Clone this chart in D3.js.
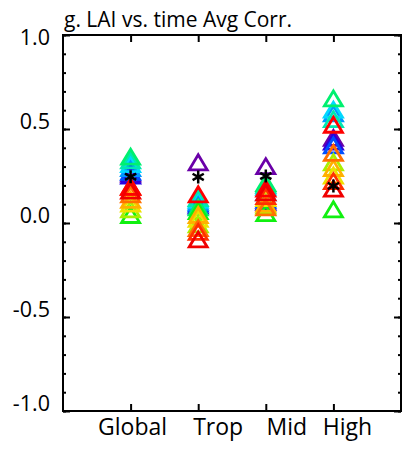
<!DOCTYPE html>
<html>
<head>
<meta charset="utf-8">
<script src="https://cdn.jsdelivr.net/npm/d3@7"></script>
<style>
  html, body { margin: 0; padding: 0; background: #fff; }
  svg { display: block; }
  text { font-family: "Open Sans", "DejaVu Sans", sans-serif; fill: #000; }
</style>
</head>
<body>
<svg id="chart" width="409" height="454"></svg>
<script>
// Regions along the x axis
const categories = ["Global", "Trop", "Mid", "High"];

// Model colours (one per model, same across regions)
const modelColors = [
  "#6a00a8", "#2a00e0", "#0050ff", "#0098ff", "#00d8ff", "#00e8b0", "#00f070",
  "#10f010", "#a8f000", "#f0e000", "#ffb000", "#ff7000", "#ff3000", "#ff0000", "#f00000"
];

// Correlation per model, one array per region (same model order as colours)
const globalVals = [0.26, 0.25, 0.27, 0.29, 0.31, 0.33, 0.35, 0.04, 0.07, 0.10, 0.12, 0.15, 0.19, 0.19, 0.17];
const tropVals   = [0.32, 0.09, 0.10, 0.11, 0.12, 0.13, 0.08, 0.06, -0.01, 0.02, 0.04, -0.03, -0.05, 0.15, -0.09];
const midVals    = [0.30, 0.11, 0.12, 0.16, 0.19, 0.20, 0.21, 0.05, 0.09, 0.13, 0.10, 0.08, 0.14, 0.18, 0.16];
const highVals   = [0.45, 0.43, 0.41, 0.58, 0.60, 0.55, 0.66, 0.07, 0.32, 0.25, 0.29, 0.37, 0.22, 0.52, 0.18];

// Reference value per region (drawn as asterisks)
const refVals = [0.246, 0.245, 0.25, 0.197];

// Axis ticks
const yMajorTicks = [-1.0, -0.5, 0.0, 0.5, 1.0];
const yTickLabels = ["-1.0", "-0.5", "0.0", "0.5", "1.0"];
const yMinorTicks = d3.range(-10, 11).map(d => d / 10);

const titleText = "g. LAI vs. time Avg Corr.";

// ---- layout ----
const padL = 63, padR = 401, padT = 35, padB = 411;
const labelShift = [2, 20, 21, 14]; // category label offsets from their ticks

const svg = d3.select("#chart");
const x = d3.scaleLinear().domain([0, categories.length + 1]).range([padL, padR]);
const y = d3.scaleLinear().domain([-1, 1]).range([padB, padT]);

const axisStyle = g => {
  g.select(".domain").remove();
  g.selectAll("line").attr("stroke", "#000").attr("stroke-width", 2);
  g.selectAll("text").remove();
};

// y ticks, inward on both sides
svg.append("g").attr("transform", `translate(${padL},0)`)
  .call(d3.axisLeft(y).tickValues(yMinorTicks).tickSize(-3)).call(axisStyle);
svg.append("g").attr("transform", `translate(${padL},0)`)
  .call(d3.axisLeft(y).tickValues(yMajorTicks).tickSize(-7)).call(axisStyle);
svg.append("g").attr("transform", `translate(${padR},0)`)
  .call(d3.axisRight(y).tickValues(yMinorTicks).tickSize(-3)).call(axisStyle);
svg.append("g").attr("transform", `translate(${padR},0)`)
  .call(d3.axisRight(y).tickValues(yMajorTicks).tickSize(-7)).call(axisStyle);

// x ticks, inward on top and bottom
const xTicks = categories.map((c, i) => i + 1);
svg.append("g").attr("transform", `translate(0,${padB})`)
  .call(d3.axisBottom(x).tickValues(xTicks).tickSize(-7)).call(axisStyle);
svg.append("g").attr("transform", `translate(0,${padT})`)
  .call(d3.axisTop(x).tickValues(xTicks).tickSize(-7)).call(axisStyle);

// frame
svg.append("rect")
  .attr("x", padL).attr("y", padT)
  .attr("width", padR - padL).attr("height", padB - padT)
  .attr("fill", "none").attr("stroke", "#000").attr("stroke-width", 2);

// y tick labels
svg.append("g").selectAll("text")
  .data(yMajorTicks)
  .join("text")
  .attr("x", 50)
  .attr("y", d => Math.max(y(d), padT + 10))
  .attr("text-anchor", "end")
  .attr("font-size", 21.5)
  .text((d, i) => yTickLabels[i]);

// category labels
svg.append("g").selectAll("text")
  .data(categories)
  .join("text")
  .attr("x", (d, i) => x(i + 1) + labelShift[i])
  .attr("y", 435)
  .attr("text-anchor", "middle")
  .attr("font-size", 23)
  .text(d => d);

// title
svg.append("text")
  .attr("x", 64).attr("y", 27)
  .attr("font-size", 21)
  .text(titleText);

// open triangles, one per model per region
const regionVals = [globalVals, tropVals, midVals, highVals];
const tri = "M0,-8 L9,7 L-9,7 Z";
const points = [];
modelColors.forEach((col, m) => {
  regionVals.forEach((vals, r) => {
    points.push({ r, v: vals[m], col });
  });
});
svg.append("g").selectAll("path")
  .data(points)
  .join("path")
  .attr("transform", d => `translate(${x(d.r + 1)},${y(d.v)})`)
  .attr("d", tri)
  .attr("fill", "none")
  .attr("stroke", d => d.col)
  .attr("stroke-width", 2.8)
  .attr("stroke-linejoin", "miter");

// asterisks for the reference values
const star = "M0,-6.5 L0,6.5 M-5.6,-3.2 L5.6,3.2 M-5.6,3.2 L5.6,-3.2";
svg.append("g").selectAll("path")
  .data(refVals)
  .join("path")
  .attr("transform", (d, i) => `translate(${x(i + 1)},${y(d)})`)
  .attr("d", star)
  .attr("fill", "none")
  .attr("stroke", "#000")
  .attr("stroke-width", 2.5);
</script>
</body>
</html>
